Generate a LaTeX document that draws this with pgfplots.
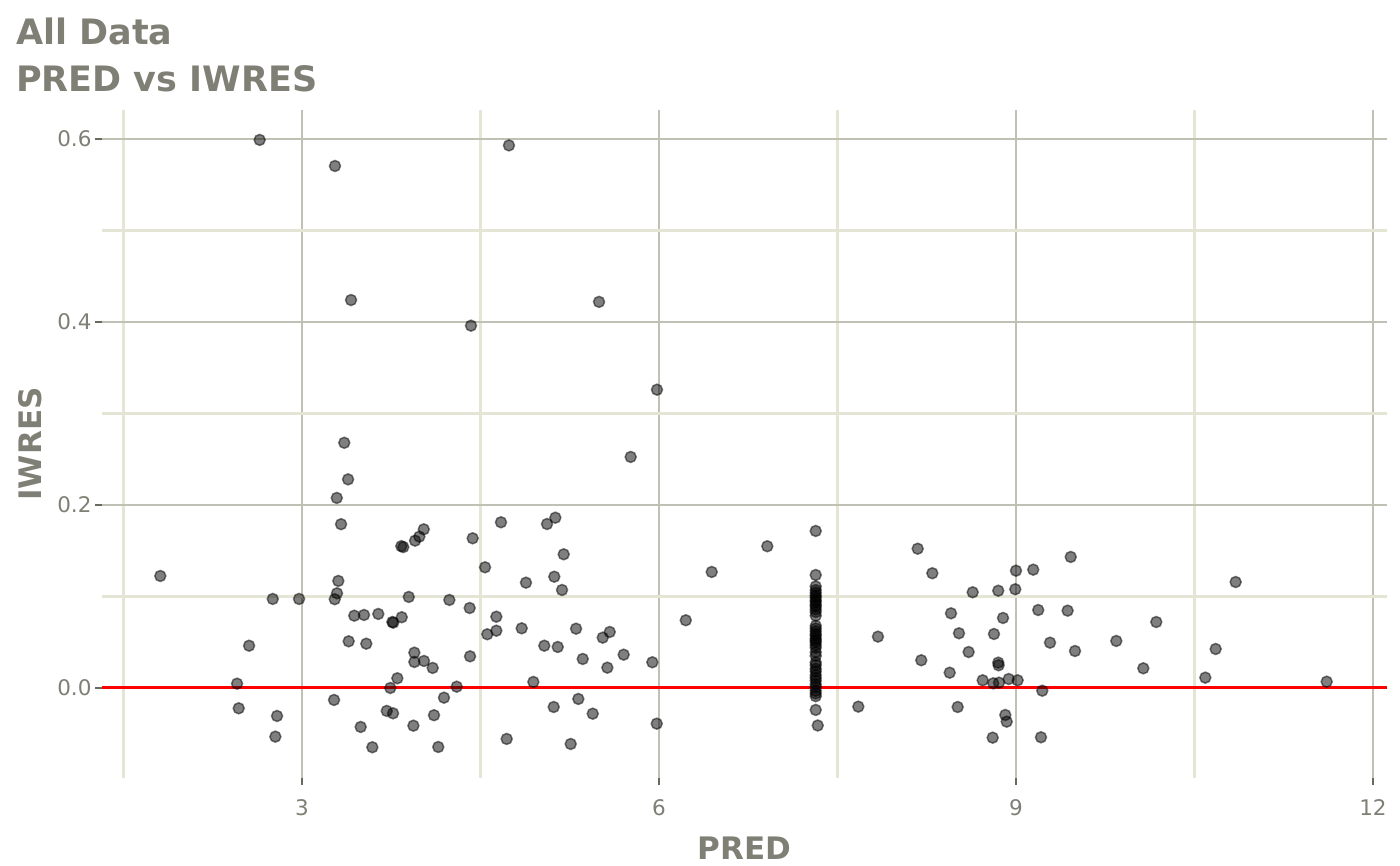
\documentclass[border=0pt]{standalone}
\usepackage{fontspec}
\setmainfont{DejaVu Sans}
\usepackage{pgfplots}
\usepackage{pgfplotstable}
\pgfplotsset{compat=1.18}

\definecolor{txtgrey}{RGB}{127,127,117}
\definecolor{majgrid}{RGB}{192,192,180}
\definecolor{mingrid}{RGB}{229,229,214}
\definecolor{tickgrey}{RGB}{105,105,100}

% PRED vs IWRES
\pgfplotstableread{
pred   iwres
2.644  0.599
3.277  0.5705
4.739  0.593
3.412  0.424
5.496  0.422
4.420  0.396
5.983  0.326
3.355  0.268
3.387  0.228
3.292  0.2077
3.328  0.179
3.834  0.155
3.851  0.154
3.950  0.161
3.986  0.1654
4.023  0.1734
1.809  0.1224
3.305  0.117
3.294  0.1035
3.275  0.097
3.897  0.0995
2.754  0.0973
2.975  0.0973
3.439  0.079
3.521  0.0798
3.641  0.0809
3.759  0.0721
3.767  0.0714
3.838  0.0773
2.555  0.0462
3.392  0.051
3.540  0.0484
3.944  0.0386
3.944  0.0284
4.025  0.0295
4.098  0.0219
3.801  0.0106
2.454  0.0047
3.742  0.0000
3.269  -0.0131
2.468  -0.0222
2.790  -0.0306
2.776  -0.0532
3.712  -0.0251
3.765  -0.0277
3.493  -0.0426
3.591  -0.0648
3.936  -0.0412
5.762  0.2525
5.129  0.1861
5.059  0.1792
4.672  0.1811
4.434  0.1636
5.199  0.1461
4.538  0.1319
4.882  0.1151
5.120  0.1216
5.185  0.1071
6.443  0.1268
4.238  0.0962
4.409  0.0874
4.633  0.0779
6.225  0.0740
4.557  0.0587
4.633  0.0626
4.846  0.0652
5.303  0.0648
5.586  0.0612
5.527  0.0550
5.036  0.0462
5.149  0.0448
5.703  0.0364
5.359  0.0317
5.566  0.0222
5.944  0.0281
4.412  0.0346
4.300  0.0014
4.944  0.0066
4.193  -0.0106
4.109  -0.0298
4.145  -0.0645
4.720  -0.0557
5.115  -0.0208
5.322  -0.0120
5.443  -0.0281
5.258  -0.0612
5.981  -0.0390
6.910  0.1549
7.840  0.0561
7.675  -0.0204
8.174  0.1522
8.297  0.1254
8.636  0.1046
8.851  0.1063
9.000  0.1282
8.994  0.1079
8.454  0.0816
8.891  0.0765
8.521  0.0598
8.815  0.0590
8.602  0.0393
8.204  0.0303
8.851  0.0277
8.854  0.0248
8.443  0.0167
8.720  0.0084
8.809  0.0051
8.857  0.0058
8.939  0.0098
9.014  0.0084
8.510  -0.0208
8.910  -0.0295
8.922  -0.0368
8.804  -0.0543
9.460  0.1432
9.145  0.1293
9.187  0.0852
9.434  0.0845
10.179 0.0721
10.846 0.1158
9.286  0.0495
9.496  0.0404
9.843  0.0514
10.678 0.0426
10.070 0.0215
10.591 0.0113
11.611 0.0069
9.221  -0.0030
9.210  -0.0539
7.317  0.1716
7.317  0.1235
7.317  0.111
7.317  0.107
7.317  0.104
7.317  0.101
7.317  0.099
7.317  0.096
7.317  0.094
7.317  0.091
7.317  0.089
7.317  0.086
7.317  0.083
7.317  0.079
7.317  0.068
7.317  0.065
7.317  0.062
7.317  0.059
7.317  0.057
7.317  0.054
7.317  0.052
7.317  0.050
7.317  0.047
7.317  0.044
7.317  0.039
7.317  0.035
7.317  0.028
7.317  0.025
7.317  0.021
7.317  0.018
7.317  0.014
7.317  0.011
7.317  0.008
7.317  0.004
7.317  0.001
7.317  -0.003
7.317  -0.006
7.317  -0.009
7.317  -0.024
7.334  -0.041
}\iwrestable

\begin{document}
\begin{tikzpicture}[x=1pt,y=1pt]
\path[use as bounding box] (0,0) rectangle (1400,865);
\node[anchor=base west, inner sep=0pt, text=txtgrey,
      font=\fontsize{35}{40}\selectfont\bfseries] at (16,820) {All Data};
\node[anchor=base west, inner sep=0pt, text=txtgrey,
      font=\fontsize{35}{40}\selectfont\bfseries] at (16,773) {PRED vs IWRES};
\begin{axis}[
    at={(102pt,87pt)}, anchor=south west,
    scale only axis, width=1285pt, height=668pt,
    xmin=1.319, xmax=12.118, ymin=-0.0984, ymax=0.6317,
    xtick={3,6,9,12}, ytick={0,0.2,0.4,0.6},
    minor xtick={1.5,4.5,7.5,10.5}, minor ytick={0.1,0.3,0.5},
    grid=both,
    major grid style={majgrid, line width=2.5pt},
    minor grid style={mingrid, line width=2.2pt},
    axis line style={draw=none},
    xtick pos=left, ytick pos=left,
    tick align=outside,
    major tick length=7pt, minor tick length=0pt,
    tick style={tickgrey, line width=2.4pt},
    scaled y ticks=false,
    /pgf/number format/assume math mode=true,
    yticklabel style={/pgf/number format/.cd, fixed, fixed zerofill, precision=1},
    ticklabel style={font=\fontsize{21.5}{24}\selectfont, text=txtgrey},
    xticklabel style={yshift=-11pt},
    xlabel={\bfseries PRED},
    ylabel={\bfseries IWRES},
    xlabel style={at={(axis description cs:0.5,-0.1222)}, anchor=base,
                  inner sep=0pt, font=\fontsize{31}{36}\selectfont, text=txtgrey},
    ylabel style={at={(axis description cs:-0.0467,0.5)}, anchor=base,
                  inner sep=0pt, font=\fontsize{31}{36}\selectfont, text=txtgrey},
]
\addplot[only marks, mark=*, mark size=5.5pt,
         mark options={fill=black, draw=black, line width=1.5pt, opacity=0.5}]
    table[x=pred, y=iwres] {\iwrestable};
\addplot[red, line width=3pt] coordinates {(1.319,0) (12.118,0)};
\end{axis}
\end{tikzpicture}
\end{document}
